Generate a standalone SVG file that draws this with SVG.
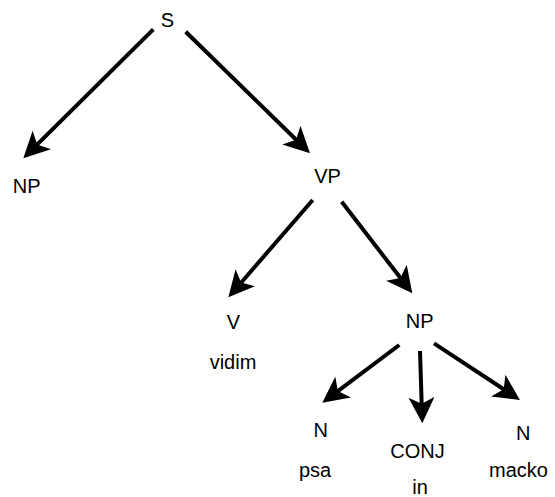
<svg xmlns="http://www.w3.org/2000/svg" width="555" height="497" viewBox="0 0 555 497">
  <style>
    .lbl { font-family: "Liberation Sans", Arial, Helvetica, sans-serif; font-size: 20px; fill: #000; text-anchor: middle; }
    .edge { stroke: #000; stroke-width: 4; fill: none; marker-end: url(#head); }
  </style>
  <defs>
    <!-- classic notched arrowhead, tip at x=26, notch at x=6.5 -->
    <marker id="head" markerUnits="userSpaceOnUse" markerWidth="28" markerHeight="28" viewBox="0 0 28 28" refX="7" refY="13" orient="auto">
      <path d="M26,13 L0,0 L6.5,13 L0,26 Z" fill="#000"/>
    </marker>
  </defs>

  <g id="connectors">
    <line class="edge" x1="153.3" y1="29.3" x2="36.8" y2="144.9"/>
    <line class="edge" x1="185.7" y1="31.7" x2="296.4" y2="140.0"/>
    <line class="edge" x1="312.7" y1="200" x2="240.8" y2="283.0"/>
    <line class="edge" x1="341.7" y1="201.7" x2="400.7" y2="278.3"/>
    <line class="edge" x1="399.3" y1="345" x2="337.5" y2="391.3"/>
    <line class="edge" x1="420" y1="351" x2="421.7" y2="404.3"/>
    <line class="edge" x1="434" y1="343.3" x2="504.1" y2="389.5"/>
  </g>

  <g id="node-S"><text class="lbl" x="167.5" y="26.5">S</text></g>
  <g id="node-NP-subject"><text class="lbl" x="26.7" y="192.5">NP</text></g>
  <g id="node-VP"><text class="lbl" x="327.5" y="183">VP</text></g>
  <g id="node-V">
    <text class="lbl" x="233.3" y="329">V</text>
    <text class="lbl" x="233" y="369">vidim</text>
  </g>
  <g id="node-NP-object"><text class="lbl" x="419.7" y="328.3">NP</text></g>
  <g id="node-N-psa">
    <text class="lbl" x="320.8" y="436.5">N</text>
    <text class="lbl" x="315" y="476.5">psa</text>
  </g>
  <g id="node-CONJ">
    <text class="lbl" x="417.5" y="458.3">CONJ</text>
    <text class="lbl" x="420" y="494">in</text>
  </g>
  <g id="node-N-macko">
    <text class="lbl" x="523.3" y="440">N</text>
    <text class="lbl" x="518.5" y="476.7">macko</text>
  </g>
</svg>
